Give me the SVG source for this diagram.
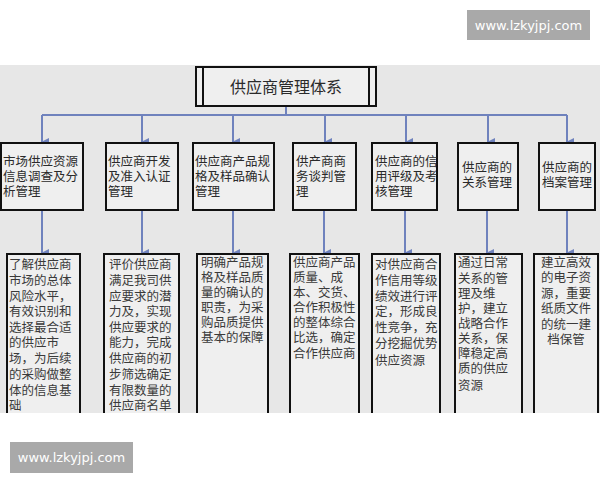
<svg xmlns="http://www.w3.org/2000/svg" width="600" height="480" viewBox="0 0 600 480">
<defs>
<marker id="ah" markerWidth="8" markerHeight="8" refX="4" refY="7" orient="auto-start-reverse" markerUnits="userSpaceOnUse" viewBox="0 0 8 8">
<path d="M0,0 L8,0 L4,8 Z" fill="#6f82bd"/>
</marker>
<style>
.box{fill:#efefef;stroke:#111;stroke-width:2}
.ob{fill:none;stroke:#111;stroke-width:2}
.t{font-family:"Liberation Sans","Noto Sans CJK SC",sans-serif;font-size:12.5px;fill:#2a2a2a;dominant-baseline:central}
.b{font-family:"Liberation Sans","Noto Sans CJK SC",sans-serif;font-size:12.5px;fill:#3a3a3a;dominant-baseline:central}
.c{text-anchor:middle}
.ln{stroke:#6f82bd;stroke-width:2;fill:none}
.wm{fill:#a9a9a9}
.wt{font-family:"DejaVu Sans",sans-serif;font-size:13px;fill:#ffffff;text-anchor:middle;dominant-baseline:central}
</style>
</defs>
<rect x="0" y="0" width="600" height="480" fill="#ffffff"/>
<rect x="0" y="65" width="600" height="348" fill="#e7e7e7"/>

<g id="connectors">
<path class="ln" d="M286,106 V115 M42,115 H567"/>
<path class="ln" d="M42,115 V142" marker-end="url(#ah)"/>
<path class="ln" d="M142,115 V142" marker-end="url(#ah)"/>
<path class="ln" d="M233,115 V142" marker-end="url(#ah)"/>
<path class="ln" d="M325,115 V142" marker-end="url(#ah)"/>
<path class="ln" d="M406,115 V142" marker-end="url(#ah)"/>
<path class="ln" d="M488,115 V142" marker-end="url(#ah)"/>
<path class="ln" d="M567,115 V142" marker-end="url(#ah)"/>
<path class="ln" d="M42,210 V253" marker-end="url(#ah)"/>
<path class="ln" d="M142,210 V253" marker-end="url(#ah)"/>
<path class="ln" d="M233,210 V253" marker-end="url(#ah)"/>
<path class="ln" d="M324,210 V253" marker-end="url(#ah)"/>
<path class="ln" d="M405,210 V253" marker-end="url(#ah)"/>
<path class="ln" d="M487,210 V253" marker-end="url(#ah)"/>
<path class="ln" d="M567,210 V253" marker-end="url(#ah)"/>
</g>

<g id="root">
<rect class="box" x="196" y="67" width="180" height="39"/>
<path class="ob" d="M203,67 V106 M369,67 V106"/>
<text class="t c" x="286" y="87" style="font-size:16px">供应商管理体系</text>
</g>

<g id="n1">
<rect class="box" x="1" y="143" width="82" height="67"/>
<text class="t"><tspan x="3" y="162">市场供应资源</tspan><tspan x="3" y="177">信息调查及分</tspan><tspan x="3" y="192">析管理</tspan></text>
</g>
<g id="n2">
<rect class="box" x="106" y="143" width="72" height="67"/>
<text class="t"><tspan x="108" y="162">供应商开发</tspan><tspan x="108" y="177">及准入认证</tspan><tspan x="108" y="192">管理</tspan></text>
</g>
<g id="n3">
<rect class="box" x="193" y="143" width="81" height="67"/>
<text class="t"><tspan x="195" y="162">供应商产品规</tspan><tspan x="195" y="177">格及样品确认</tspan><tspan x="195" y="192">管理</tspan></text>
</g>
<g id="n4">
<rect class="box" x="293" y="143" width="63" height="67"/>
<text class="t"><tspan x="296" y="162">供产商商</tspan><tspan x="296" y="177">务谈判管</tspan><tspan x="296" y="192">理</tspan></text>
</g>
<g id="n5">
<rect class="box" x="372" y="143" width="65" height="67"/>
<text class="t"><tspan x="375" y="162">供应商的信</tspan><tspan x="375" y="177">用评级及考</tspan><tspan x="375" y="192">核管理</tspan></text>
</g>
<g id="n6">
<rect class="box" x="458" y="143" width="60" height="67"/>
<text class="t"><tspan x="462" y="168">供应商的</tspan><tspan x="462" y="183">关系管理</tspan></text>
</g>
<g id="n7">
<rect class="box" x="539" y="143" width="56" height="67"/>
<text class="t"><tspan x="542" y="168">供应商的</tspan><tspan x="542" y="183">档案管理</tspan></text>
</g>

<g id="d1">
<rect x="7" y="254" width="73" height="159" fill="#efefef"/>
<path class="ob" d="M7,413 V254 H80 V413"/>
<text class="b"><tspan x="9" y="265">了解供应商</tspan><tspan x="9" y="281">市场的总体</tspan><tspan x="9" y="297">风险水平，</tspan><tspan x="9" y="312">有效识别和</tspan><tspan x="9" y="328">选择最合适</tspan><tspan x="9" y="343">的供应市</tspan><tspan x="9" y="359">场，为后续</tspan><tspan x="9" y="375">的采购做整</tspan><tspan x="9" y="391">体的信息基</tspan><tspan x="9" y="406">础</tspan></text>
</g>
<g id="d2">
<rect x="104" y="254" width="75" height="159" fill="#efefef"/>
<path class="ob" d="M104,413 V254 H179 V413"/>
<text class="b"><tspan x="109" y="265">评价供应商</tspan><tspan x="109" y="281">满足我司供</tspan><tspan x="109" y="297">应要求的潜</tspan><tspan x="109" y="312">力及，实现</tspan><tspan x="109" y="328">供应要求的</tspan><tspan x="109" y="343">能力，完成</tspan><tspan x="109" y="359">供应商的初</tspan><tspan x="109" y="375">步筛选确定</tspan><tspan x="109" y="391">有限数量的</tspan><tspan x="109" y="406">供应商名单</tspan></text>
</g>
<g id="d3">
<rect x="197" y="254" width="71" height="159" fill="#efefef"/>
<path class="ob" d="M197,413 V254 H268 V413"/>
<text class="b"><tspan x="201" y="263">明确产品规</tspan><tspan x="201" y="278">格及样品质</tspan><tspan x="201" y="293">量的确认的</tspan><tspan x="201" y="308">职责，为采</tspan><tspan x="201" y="323">购品质提供</tspan><tspan x="201" y="338">基本的保障</tspan></text>
</g>
<g id="d4">
<rect x="290" y="254" width="69" height="159" fill="#efefef"/>
<path class="ob" d="M290,413 V254 H359 V413"/>
<text class="b"><tspan x="293" y="263">供应商产品</tspan><tspan x="293" y="278">质量、成</tspan><tspan x="293" y="293">本、交货、</tspan><tspan x="293" y="308">合作积极性</tspan><tspan x="293" y="323">的整体综合</tspan><tspan x="293" y="338">比选，确定</tspan><tspan x="293" y="354">合作供应商</tspan></text>
</g>
<g id="d5">
<rect x="372" y="254" width="68" height="159" fill="#efefef"/>
<path class="ob" d="M372,413 V254 H440 V413"/>
<text class="b"><tspan x="375" y="265">对供应商合</tspan><tspan x="375" y="281">作信用等级</tspan><tspan x="375" y="297">绩效进行评</tspan><tspan x="375" y="312">定，形成良</tspan><tspan x="375" y="328">性竞争，充</tspan><tspan x="375" y="344">分挖掘优势</tspan><tspan x="375" y="361">供应资源</tspan></text>
</g>
<g id="d6">
<rect x="455" y="254" width="67" height="159" fill="#efefef"/>
<path class="ob" d="M455,413 V254 H522 V413"/>
<text class="b"><tspan x="458" y="263">通过日常</tspan><tspan x="458" y="279">关系的管</tspan><tspan x="458" y="294">理及维</tspan><tspan x="458" y="309">护，建立</tspan><tspan x="458" y="324">战略合作</tspan><tspan x="458" y="339">关系，保</tspan><tspan x="458" y="354">障稳定高</tspan><tspan x="458" y="369">质的供应</tspan><tspan x="458" y="386">资源</tspan></text>
</g>
<g id="d7">
<rect x="534" y="254" width="64" height="159" fill="#efefef"/>
<path class="ob" d="M534,413 V254 H598 V413"/>
<text class="b c"><tspan x="566" y="263">建立高效</tspan><tspan x="566" y="278">的电子资</tspan><tspan x="566" y="294">源，重要</tspan><tspan x="566" y="309">纸质文件</tspan><tspan x="566" y="325">的统一建</tspan><tspan x="566" y="340">档保管</tspan></text>
</g>

<g id="watermark-top">
<rect class="wm" x="467" y="10" width="123" height="30"/>
<text class="wt" x="528.5" y="25">www.lzkyjpj.com</text>
</g>
<g id="watermark-bottom">
<rect class="wm" x="10" y="442" width="123" height="31"/>
<text class="wt" x="71.5" y="457.5">www.lzkyjpj.com</text>
</g>
</svg>
